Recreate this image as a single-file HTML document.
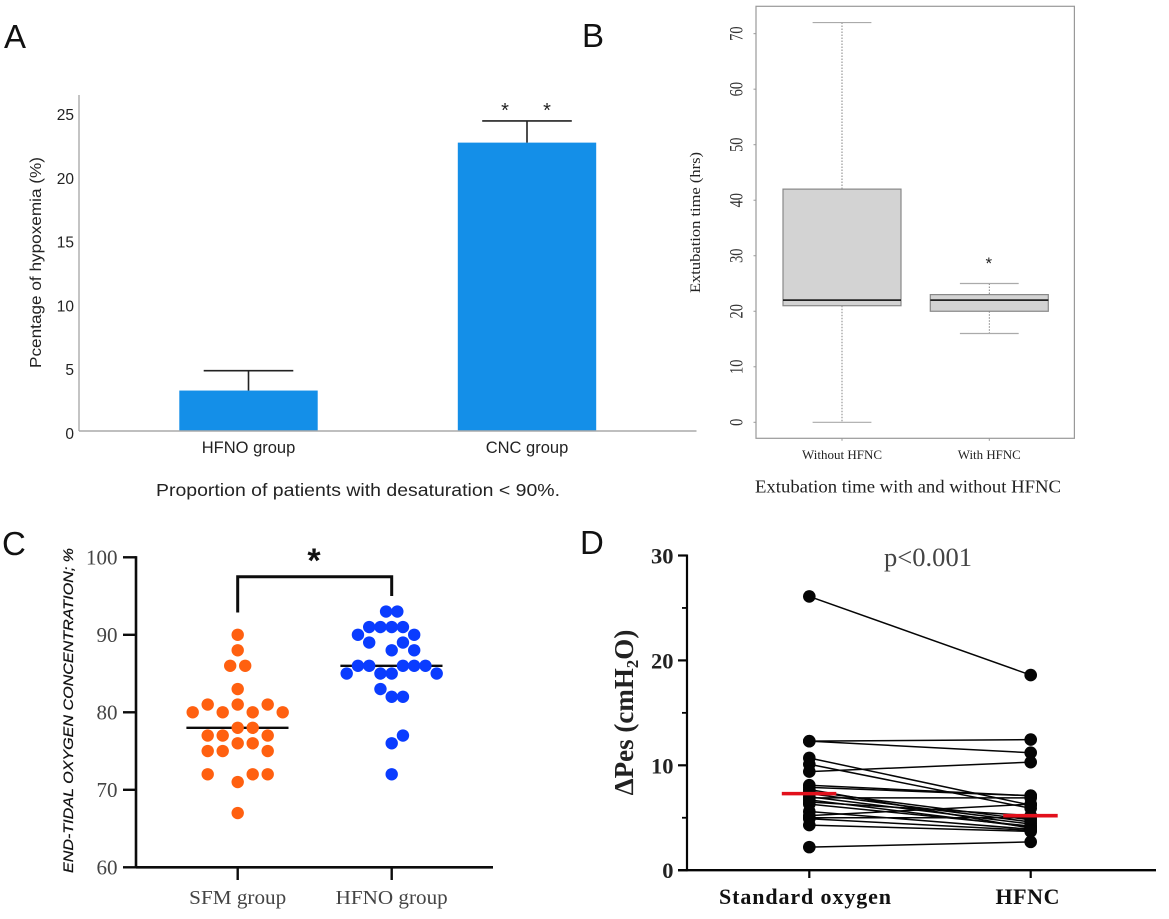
<!DOCTYPE html>
<html lang="en">
<head>
<meta charset="utf-8">
<title>Four-panel HFNC chart figure</title>
<style>
html,body{margin:0;padding:0;background:#fff;}
svg{display:block;}
text{white-space:pre;}
.letter{font:33px "Liberation Sans",sans-serif;fill:#111;}
.sans{font-family:"Liberation Sans",sans-serif;}
.serif{font-family:"Liberation Serif",serif;}
</style>
</head>
<body>
<svg id="figure" xmlns="http://www.w3.org/2000/svg" width="1169" height="919" viewBox="0 0 1169 919">
  <rect width="1169" height="919" fill="#fff"/>

  <g id="panelA">
    <text class="letter" x="4" y="48">A</text>
    <text class="sans" transform="translate(41,262.5) rotate(-90)" text-anchor="middle" font-size="16" fill="#222" textLength="211" lengthAdjust="spacingAndGlyphs">Pcentage of hypoxemia (%)</text>
    <text class="sans" x="358" y="496" text-anchor="middle" font-size="17.5" fill="#222" textLength="404" lengthAdjust="spacingAndGlyphs">Proportion of patients with desaturation &lt; 90%.</text>
    <text class="sans" x="505" y="117" text-anchor="middle" font-size="20" fill="#222">*</text>
    <text class="sans" x="547" y="117" text-anchor="middle" font-size="20" fill="#222">*</text>
  </g>

  <g id="panelB">
    <text class="letter" x="582" y="47">B</text>
    <text class="serif" transform="translate(700,222.5) rotate(-90)" text-anchor="middle" font-size="15" fill="#222" textLength="141" lengthAdjust="spacingAndGlyphs">Extubation time (hrs)</text>
    <text class="serif" x="908" y="492.5" text-anchor="middle" font-size="18" fill="#222" textLength="306" lengthAdjust="spacingAndGlyphs">Extubation time with and without HFNC</text>
  </g>

  <g id="panelC">
    <text class="letter" x="2" y="555">C</text>
    <text class="sans" transform="translate(73,710.5) rotate(-90)" text-anchor="middle" font-size="14" font-style="italic" fill="#111" stroke="#111" stroke-width="0.25" textLength="325" lengthAdjust="spacingAndGlyphs">END-TIDAL OXYGEN CONCENTRATION; %</text>
    <text class="sans" x="314" y="572" text-anchor="middle" font-size="34" font-weight="bold" fill="#111">*</text>
  </g>

  <g id="panelD">
    <text class="letter" x="580" y="554">D</text>
    <text class="serif" transform="translate(633,712.5) rotate(-90)" text-anchor="middle" font-size="27" font-weight="bold" fill="#222">ΔPes (cmH<tspan font-size="17" dy="5">2</tspan><tspan dy="-5">O)</tspan></text>
    <text class="serif" x="928" y="566" text-anchor="middle" font-size="26" fill="#444" textLength="88" lengthAdjust="spacingAndGlyphs">p&lt;0.001</text>
  </g>
</svg>

<script>
/* Panel A data */
const aCategories = ['HFNO group', 'CNC group'];
const aValues = [3.17, 22.6];
const aErrors = [1.56, 1.7];
const aTicks = [0, 5, 10, 15, 20, 25];

/* Panel B data */
const bCategories = ['Without HFNC', 'With HFNC'];
const bMin = [0, 16];
const bQ1 = [21, 20];
const bMedian = [22, 22];
const bQ3 = [42, 23];
const bMax = [72, 25];
const bOutliers = [null, 29];
const bTicks = [0, 10, 20, 30, 40, 50, 60, 70];

/* Panel C data */
const cCategories = ['SFM group', 'HFNO group'];
const cTicks = [60, 70, 80, 90, 100];
const cMedians = [78, 86];
const sfmValues = [90, 88, 86, 86, 83, 81, 81, 81, 80, 80, 80, 80, 78, 78, 77, 77, 77, 76, 76, 75, 75, 75, 72, 72, 72, 71, 67];
const sfmColumns = [0, 0, -1, 1, 0, -4, 0, 4, -6, -2, 2, 6, 0, 2, -4, -2, 4, 0, 2, -4, -2, 4, -4, 2, 4, 0, 0];
const hfnoValues = [93, 93, 91, 91, 91, 91, 90, 90, 89, 89, 88, 88, 86, 86, 86, 86, 86, 85, 85, 85, 85, 83, 82, 82, 77, 76, 72];
const hfnoColumns = [-0.5, 0.5, -2, -1, 0, 1, -3, 2, -2, 1, 0, 2, -3, -2, 1, 2, 3, -4, -1, 0, 4, -1, 0, 1, 1, 0, 0];

/* Panel D data */
const dCategories = ['Standard oxygen', 'HFNC'];
const dTicks = [0, 10, 20, 30];
const dMinorTicks = [5, 15, 25];
const dMeans = [7.3, 5.2];
const dBefore = [26.1, 12.3, 12.3, 10.7, 10.1, 9.4, 8.1, 7.9, 7.7, 7.5, 7.3, 7.0, 6.9, 6.7, 6.5, 6.3, 5.6, 5.2, 5.0, 4.9, 4.3, 2.2];
const dAfter = [18.6, 12.45, 11.2, 6.2, 5.9, 10.3, 7.1, 7.1, 4.0, 4.8, 4.6, 4.4, 6.9, 4.1, 5.2, 4.2, 3.9, 6.3, 5.0, 3.8, 3.7, 2.7];

const NS = 'http://www.w3.org/2000/svg';
function el(tag, attrs, parent, content) {
  const node = document.createElementNS(NS, tag);
  for (const k in attrs) node.setAttribute(k, attrs[k]);
  if (content !== undefined) node.textContent = content;
  parent.appendChild(node);
  return node;
}
function line(parent, x1, y1, x2, y2, stroke, width, extra) {
  return el('line', Object.assign({x1: x1, y1: y1, x2: x2, y2: y2, stroke: stroke, 'stroke-width': width}, extra || {}), parent);
}

/* ---------- Panel A ---------- */
const panelA = document.getElementById('panelA');
const aY = v => 431 - 12.76 * v;
const aX = i => 248.5 + 278.5 * i;
const aHalfBar = 69.2;
const aHalfCap = 44.8;

aTicks.forEach(t => {
  const label = el('text', {x: 74, y: aY(t) + 8, 'text-anchor': 'end', 'font-size': 15.5, fill: '#222', class: 'sans'}, panelA, String(t));
  
  
});
aCategories.forEach((c, i) => {
  const bar = el('rect', {x: aX(i) - aHalfBar, y: aY(aValues[i]), width: aHalfBar * 2, height: aY(0) - aY(aValues[i]), fill: '#148fe8'}, panelA);
  
  
  const top = aY(aValues[i] + aErrors[i]);
  const stem = line(panelA, aX(i), aY(aValues[i]), aX(i), top, '#222', 1.6);
  
  
  const cap = line(panelA, aX(i) - aHalfCap, top, aX(i) + aHalfCap, top, '#222', 1.6);
  
  
  const label = el('text', {x: aX(i), y: 453, 'text-anchor': 'middle', 'font-size': 16.5, fill: '#222', class: 'sans'}, panelA, c);
  
  
});
const aYAxis = line(panelA, 79, 95, 79, aY(0), '#aaa', 1.4);


const aXAxis = line(panelA, 79, aY(0), 696.5, aY(0), '#aaa', 1.4);



/* ---------- Panel B ---------- */
const panelB = document.getElementById('panelB');
const bY = v => 422.3 - 5.552 * v;
const bX = i => 842 + 147.3 * i;
const bHalfBox = 59;
const bHalfCap = 29.4;
const bLabelWidths = [80, 63];

const bFrame = el('rect', {x: 756, y: 6.3, width: 318.4, height: 432, fill: 'none', stroke: '#999', 'stroke-width': 1.2}, panelB);


bTicks.forEach(t => {
  const tick = line(panelB, 753.5, bY(t), 756, bY(t), '#999', 1);
  
  
  const label = el('text', {transform: 'translate(742.3,' + bY(t) + ') rotate(-90)', 'text-anchor': 'middle', 'font-size': 19, fill: '#333', class: 'serif', textLength: String(t).length * 7.2, lengthAdjust: 'spacingAndGlyphs'}, panelB, String(t));
  
  
});
bCategories.forEach((c, i) => {
  const x = bX(i);
  const upper = line(panelB, x, bY(bMax[i]), x, bY(bQ3[i]), '#777', 0.9, {'stroke-dasharray': '1.5 1.5'});
  
  
  const lower = line(panelB, x, bY(bQ1[i]), x, bY(bMin[i]), '#777', 0.9, {'stroke-dasharray': '1.5 1.5'});
  
  
  const capHi = line(panelB, x - bHalfCap, bY(bMax[i]), x + bHalfCap, bY(bMax[i]), '#aaa', 1.2);
  
  
  const capLo = line(panelB, x - bHalfCap, bY(bMin[i]), x + bHalfCap, bY(bMin[i]), '#aaa', 1.2);
  
  
  const box = el('rect', {x: x - bHalfBox, y: bY(bQ3[i]), width: bHalfBox * 2, height: bY(bQ1[i]) - bY(bQ3[i]), fill: '#d3d3d3', stroke: '#888', 'stroke-width': 1.2}, panelB);
  
  
  const median = line(panelB, x - bHalfBox, bY(bMedian[i]), x + bHalfBox, bY(bMedian[i]), '#222', 1.8);
  
  
  if (bOutliers[i] !== null) {
    const outlier = el('text', {x: x - 0.5, y: bY(bOutliers[i]) + 7.5, 'text-anchor': 'middle', 'font-size': 17, fill: '#222', class: 'sans'}, panelB, '*');
    
    
  }
  const tick = line(panelB, x, 438.3, x, 440.8, '#999', 1);
  
  
  const label = el('text', {x: x, y: 458.8, 'text-anchor': 'middle', 'font-size': 12.5, fill: '#222', class: 'serif', textLength: bLabelWidths[i], lengthAdjust: 'spacingAndGlyphs'}, panelB, c);
  
  
});

/* ---------- Panel C ---------- */
const panelC = document.getElementById('panelC');
const cY = v => 867.3 - 7.75 * (v - 60);
const cX = i => 237.7 + 154 * i;
const sfmColumnWidth = 7.5;
const hfnoColumnWidth = 11.25;
const cBlack = '#0c0c0c';

cTicks.forEach(t => {
  const tick = line(panelC, 123, cY(t), 136, cY(t), cBlack, 2.4);
  
  
  const label = el('text', {x: 117.5, y: cY(t) + 7, 'text-anchor': 'end', 'font-size': 21, fill: '#444', class: 'serif'}, panelC, String(t));
  
  
});
const cYAxis = line(panelC, 136, cY(100) - 1.2, 136, cY(60) + 1.2, cBlack, 2.6);


const cXAxis = line(panelC, 136, cY(60), 493, cY(60), cBlack, 2.6);


const cLabelWidths = [97, 112];
cCategories.forEach((c, i) => {
  const tick = line(panelC, cX(i), cY(60), cX(i), 880, cBlack, 2.4);
  
  
  const label = el('text', {x: cX(i), y: 904, 'text-anchor': 'middle', 'font-size': 20, fill: '#444', class: 'serif', textLength: cLabelWidths[i], lengthAdjust: 'spacingAndGlyphs'}, panelC, c);
  
  
  const median = line(panelC, cX(i) - 51.3, cY(cMedians[i]), cX(i) + 50.8, cY(cMedians[i]), cBlack, 2.4);
  
  
});
const bracket = el('polyline', {points: cX(0) + ',612.5 ' + cX(0) + ',576.7 ' + cX(1) + ',576.7 ' + cX(1) + ',596', fill: 'none', stroke: cBlack, 'stroke-width': 3}, panelC);


sfmValues.forEach((v, k) => {
  const dot = el('circle', {cx: cX(0) + sfmColumns[k] * sfmColumnWidth, cy: cY(v), r: 6.2, fill: '#ff6010'}, panelC);
  
  
});
hfnoValues.forEach((v, k) => {
  const dot = el('circle', {cx: cX(1) + hfnoColumns[k] * hfnoColumnWidth, cy: cY(v), r: 6.2, fill: '#0a3cff'}, panelC);
  
  
});

/* ---------- Panel D ---------- */
const panelD = document.getElementById('panelD');
const dY = v => 870.2 - 10.49 * v;
const dX = i => 809.3 + 221.4 * i;
const dBlack = '#050505';

dTicks.forEach(t => {
  const tick = line(panelD, 678, dY(t), 687, dY(t), dBlack, 2.2);
  
  
  const label = el('text', {x: 673.5, y: dY(t) + 8, 'text-anchor': 'end', 'font-size': 22.5, 'font-weight': 'bold', fill: '#222', class: 'serif'}, panelD, String(t));
  
  
});
dMinorTicks.forEach(t => {
  const tick = line(panelD, 682, dY(t), 687, dY(t), dBlack, 1.8);
  
  
});
const dYAxis = line(panelD, 687, dY(30) - 1, 687, dY(0) + 1, dBlack, 2.2);


const dXAxis = line(panelD, 678, dY(0), 1156, dY(0), dBlack, 2.4);


const dLabelX = [805, 1027.5];
const dLabelWidths = [172, 64];
dCategories.forEach((c, i) => {
  const tick = line(panelD, dX(i), dY(0), dX(i), 878, dBlack, 2.2);
  
  
  const label = el('text', {x: dLabelX[i], y: 904, 'text-anchor': 'middle', 'font-size': 22, 'font-weight': 'bold', fill: '#111', class: 'serif', textLength: dLabelWidths[i], lengthAdjust: 'spacing'}, panelD, c);
  
  
});
dBefore.forEach((v, k) => {
  const pair = line(panelD, dX(0), dY(v), dX(1), dY(dAfter[k]), dBlack, 1.5);
  
  
});
dBefore.forEach((v, k) => {
  const a = el('circle', {cx: dX(0), cy: dY(v), r: 6.3, fill: dBlack}, panelD);
  
  
  const b = el('circle', {cx: dX(1), cy: dY(dAfter[k]), r: 6.3, fill: dBlack}, panelD);
  
  
});
dMeans.forEach((m, i) => {
  const mean = line(panelD, dX(i) - 27.5, dY(m), dX(i) + 27, dY(m), '#e2101c', 3.6);
  
  
});
</script>
</body>
</html>
